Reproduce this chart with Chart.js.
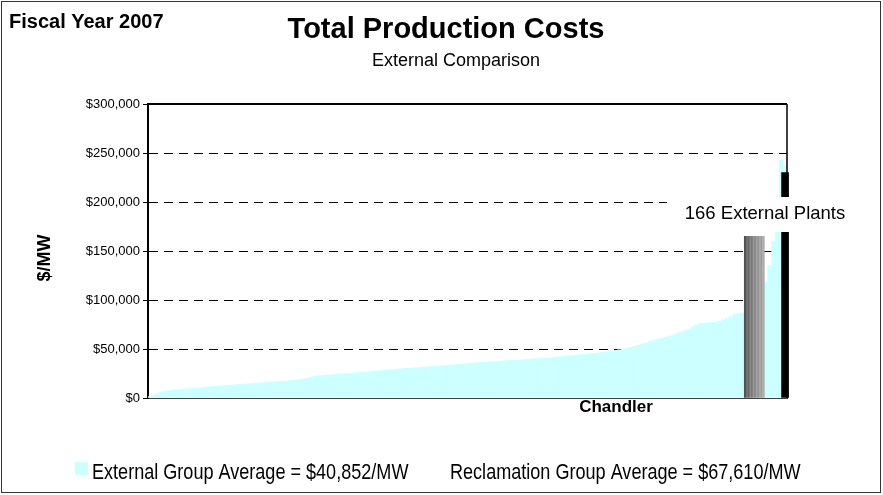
<!DOCTYPE html>
<html>
<head>
<meta charset="utf-8">
<script src="https://cdn.jsdelivr.net/npm/chart.js@4.4.1/dist/chart.umd.min.js"></script>
<style>
  html, body { margin: 0; padding: 0; background: #ffffff; }
  #wrap { width: 883px; height: 495px; position: relative; }
  canvas { display: block; }
</style>
</head>
<body>
<div id="wrap"><canvas id="c" width="883" height="495"></canvas></div>
<script>
// ---------- DATA ----------
// 166 external plants, sorted ascending ($/MW)
const externalCosts = [
  1500, 3000, 4500, 6000, 7000, 7800,
  8200, 8500, 8800, 9100, 9400, 9700, 10000, 10300, 10700, 11100, 11600,
  11900, 12200, 12500, 12800, 13100, 13400, 13700, 14000, 14300,
  14600, 14900, 15200, 15500, 15800, 16100, 16400, 16700, 17000, 17300, 17600, 17900, 18300, 18800, 19400,
  20300, 21300, 22400,
  22700, 23000, 23300, 23600, 23900, 24200, 24500, 24800, 25200, 25500, 25800, 26100, 26500,
  26900, 27300, 27600, 27900, 28200, 28500, 28800, 29200, 29600,
  30000, 30300, 30600, 30900, 31200, 31500, 31800, 32100, 32400, 32700, 33000, 33300, 33600, 34000, 34400,
  34700, 35000, 35300, 35600, 35900, 36200, 36500, 36800, 37100, 37400, 37700, 38000,
  38200, 38400, 38600, 38800, 39000, 39300, 39600, 39900, 40200, 40500,
  40800, 41100, 41500, 41900, 42300, 42700, 43100, 43500, 43900, 44300, 44600,
  45000, 45400, 45800, 46300, 46800, 47400, 48000,
  48600, 49200, 49900, 50700,
  51800, 52900, 54000, 55100, 56300, 57500,
  58600, 59700, 60800, 61900, 63100, 64300,
  65800, 67300, 68700, 70000,
  72500, 74500, 76200,
  76500, 76800, 77000, 77200,
  78500, 80000, 81500,
  83000, 85700, 86300, 87000,
  88000, 90000, 94000, 100000, 108000,
  118000, 135000, 160000, 195000, 243000, 236000
];
const plantLabels = externalCosts.map((v, i) => String(i + 1));

// Chandler (Reclamation plant) highlighted bar
const chandlerIndex = 157;
const chandlerCost = 165000;
// dark bar at the far right
const darkBarIndex = 165;
const darkBarCost = 230000;

const yTicks = [0, 50000, 100000, 150000, 200000, 250000, 300000];

const chartTitle = "Total Production Costs";
const chartSubtitle = "External Comparison";
const cornerText = "Fiscal Year 2007";
const yAxisTitle = "$/MW";
const chandlerLabel = "Chandler";
const plantsNote = "166 External Plants";
const legendTexts = ["External Group Average = $40,852/MW", "Reclamation Group Average = $67,610/MW"];

// ---------- BUILD ----------
const chandlerSeries = externalCosts.map((v, i) => i === chandlerIndex ? chandlerCost : null);
const darkSeries = externalCosts.map((v, i) => i === darkBarIndex ? darkBarCost : null);

const FONT = "'Liberation Sans', Arial, Helvetica, sans-serif";

function stripedGray(ctx) {
  const chart = ctx.chart;
  const xs = chart.scales && chart.scales.x;
  if (!xs || !chart.chartArea) return '#888888';
  const cx = xs.getPixelForValue(chandlerIndex);
  const g = chart.ctx.createLinearGradient(cx - 10, 0, cx + 10, 0);
  const stops = [
    [0, '#4c4c4c'], [0.08, '#5c5c5c'], [0.14, '#7a7a7a'], [0.22, '#656565'],
    [0.3, '#8c8c8c'], [0.38, '#737373'], [0.46, '#9a9a9a'], [0.54, '#828282'],
    [0.62, '#a6a6a6'], [0.7, '#8e8e8e'], [0.78, '#b0b0b0'], [0.86, '#9a9a9a'],
    [0.93, '#b8b8b8'], [1, '#a2a2a2']
  ];
  stops.forEach(s => g.addColorStop(s[0], s[1]));
  return g;
}

function narrowText(ctx, text, x, y, sx) {
  ctx.save();
  ctx.translate(x, y);
  ctx.scale(sx, 1);
  ctx.fillText(text, 0, 0);
  ctx.restore();
}

const decorPlugin = {
  id: 'decor',
  afterDraw(chart) {
    const ctx = chart.ctx;
    const a = chart.chartArea;
    ctx.save();
    // plot frame top & right
    ctx.strokeStyle = '#000';
    ctx.lineWidth = 2;
    ctx.beginPath();
    ctx.moveTo(a.left - 1, a.top);
    ctx.lineTo(a.right, a.top);
    ctx.stroke();
    ctx.lineWidth = 1.5;
    ctx.beginPath();
    ctx.moveTo(a.right, a.top);
    ctx.lineTo(a.right, a.bottom);
    ctx.stroke();

    // outer frame
    ctx.strokeStyle = '#333';
    ctx.lineWidth = 1;
    ctx.strokeRect(1.5, 1.5, 879, 491);

    ctx.fillStyle = '#000';
    ctx.textBaseline = 'middle';
    // corner text
    ctx.textAlign = 'left';
    ctx.font = 'bold 20px ' + FONT;
    ctx.fillText(cornerText, 9, 22);
    // title
    ctx.textAlign = 'center';
    ctx.font = 'bold 29px ' + FONT;
    ctx.fillText(chartTitle, 446, 30);
    ctx.font = '18px ' + FONT;
    ctx.fillText(chartSubtitle, 456, 61);

    // y axis title
    ctx.save();
    ctx.translate(45, 258);
    ctx.rotate(-Math.PI / 2);
    ctx.font = 'bold 18px ' + FONT;
    ctx.fillText(yAxisTitle, 0, 0);
    ctx.restore();

    // Chandler label
    ctx.font = 'bold 17px ' + FONT;
    ctx.fillText(chandlerLabel, 616, 407);

    // note box
    ctx.fillStyle = '#fff';
    ctx.fillRect(667, 197, 188, 35);
    ctx.fillStyle = '#000';
    ctx.font = '18.5px ' + FONT;
    ctx.fillText(plantsNote, 765, 214);

    // legend (condensed face)
    ctx.fillStyle = '#CCFFFF';
    ctx.fillRect(75, 462, 13, 13);
    ctx.fillStyle = '#000';
    ctx.textAlign = 'left';
    ctx.textBaseline = 'alphabetic';
    ctx.font = '22px ' + FONT;
    narrowText(ctx, legendTexts[0], 92, 479, 0.821);
    narrowText(ctx, legendTexts[1], 450, 479, 0.821);
    ctx.restore();
  }
};

new Chart(document.getElementById('c'), {
  type: 'bar',
  data: {
    labels: plantLabels,
    datasets: [
      {
        label: 'External',
        data: externalCosts,
        backgroundColor: '#CCFFFF',
        borderWidth: 0,
        categoryPercentage: 1,
        barPercentage: 1,
        grouped: false,
        order: 3
      },
      {
        label: 'Chandler',
        data: chandlerSeries,
        backgroundColor: stripedGray,
        borderWidth: 0,
        barThickness: 20,
        grouped: false,
        order: 1
      },
      {
        label: 'Dark',
        data: darkSeries,
        backgroundColor: '#000000',
        borderWidth: 0,
        barThickness: 7,
        grouped: false,
        clip: false,
        order: 2
      }
    ]
  },
  options: {
    responsive: false,
    animation: false,
    devicePixelRatio: 1,
    layout: { padding: { left: 0, top: 104, right: 96, bottom: 0 } },
    plugins: { legend: { display: false }, tooltip: { enabled: false }, title: { display: false } },
    scales: {
      x: {
        type: 'category',
        offset: true,
        grid: { display: false },
        ticks: { display: false },
        border: { display: true, color: '#404040', width: 1 },
        afterFit(s) { s.height = 97; }
      },
      y: {
        min: 0,
        max: 300000,
        afterBuildTicks(s) { s.ticks = yTicks.map(v => ({ value: v })); },
        ticks: {
          color: '#000',
          padding: 3,
          font: { family: FONT, size: 13 },
          callback: v => '$' + Number(v).toLocaleString('en-US')
        },
        grid: {
          color: c => (c.tick && (c.tick.value === 0 || c.tick.value === 300000)) ? 'rgba(0,0,0,0)' : '#000',
          tickColor: '#000',
          tickLength: 5,
          lineWidth: 1
        },
        border: { display: true, color: '#000', width: 2, dash: [9, 6] },
        afterFit(s) { s.width = 148; }
      }
    }
  },
  plugins: [decorPlugin]
});
</script>
</body>
</html>
